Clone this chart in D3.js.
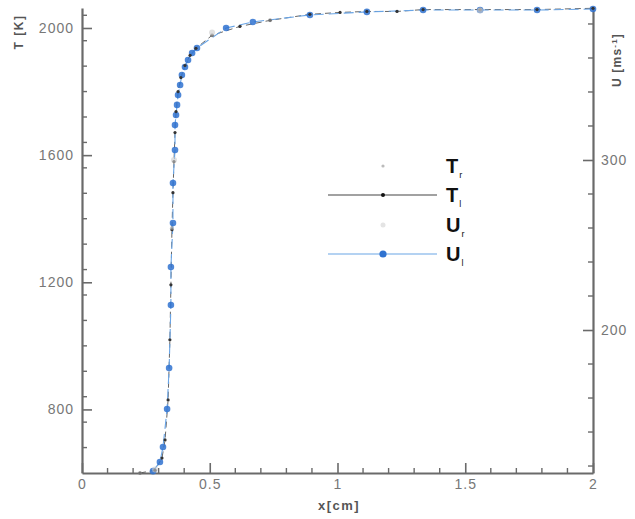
<!DOCTYPE html>
<html><head><meta charset="utf-8">
<script src="https://cdn.jsdelivr.net/npm/d3@7/dist/d3.min.js"></script>
<style>body{margin:0;background:#fff}svg{display:block}text{font-family:"Liberation Sans",Arial,sans-serif}</style>
</head><body>
<script>
// ---- data ----
const xTicks = [0, 0.5, 1, 1.5, 2];
const xTickLabels = ["0", "0.5", "1", "1.5", "2"];
const tTicks = [800, 1200, 1600, 2000];
const uTicks = [200, 300];

// T_l (black line + dot)
const tlX = [0.227,0.286,0.313,0.325,0.337,0.344,0.348,0.352,0.356,0.360,0.364,0.368,0.376,0.387,0.403,0.423,0.446,0.509,0.618,0.736,0.892,1.01,1.115,1.233,1.335,1.558,1.781,2.0];
const tlT = [600,609,647,704,830,1019,1192,1365,1482,1580,1671,1737,1800,1844,1882,1914,1936,1977,2005,2024,2043,2049,2052,2052,2058,2058,2058,2062];

// U_l (blue line + circle)
const ulX = [0.278,0.305,0.317,0.333,0.341,0.348,0.348,0.356,0.356,0.364,0.364,0.368,0.372,0.376,0.384,0.391,0.403,0.415,0.431,0.450,0.564,0.669,0.892,1.115,1.335,1.558,1.781,2.0];
const ulU = [117,122.4,131.2,153.5,177.6,214.7,237.1,262.9,286.5,305.9,320.6,326.5,332.4,338.2,344.1,350,354.7,358.8,362.9,365.9,377.6,381.2,385.3,387.1,388.2,388.2,388.2,388.8];

// T_r (faint gray) and U_r (faint light)
const trX = [0.227,0.352,0.509,0.736,1.558];
const trT = [600,1370,1977,2024,2058];
const urX = [0.286,0.360,0.509,1.558];
const urU = [118,300,375,388];

const legendLabels = [{b:"T",s:"r"},{b:"T",s:"l"},{b:"U",s:"r"},{b:"U",s:"l"}];

// ---- layout ----
const W = 635, H = 519;
const L = 82, R = 593, T0 = 8, B = 473;
const svg = d3.select("body").append("svg").attr("width", W).attr("height", H);

const x = d3.scaleLinear().domain([0, 2]).range([L, R]);
const yT = d3.scaleLinear().domain([600, 2062.9]).range([B, T0]);
const yU = d3.scaleLinear().domain([115.9, 389.4]).range([B, T0]);

const axisCol = "#6a6a6a", labCol = "#777";

function minor(start, stop, step, majors) {
  const out = [];
  for (let v = start; v <= stop + 1e-9; v += step) {
    const r = Math.round(v * 1000) / 1000;
    if (!majors.some(m => Math.abs(m - r) < 1e-6)) out.push(r);
  }
  return out;
}

// bottom axis
const gx = svg.append("g").attr("transform", `translate(0,${B})`);
gx.call(d3.axisBottom(x).tickValues(xTicks).tickFormat((d,i)=>xTickLabels[i]).tickSizeInner(-10).tickSizeOuter(0).tickPadding(6));
gx.append("g").selectAll("line").data(minor(0, 2, 0.1, xTicks)).join("line")
  .attr("x1", d=>x(d)).attr("x2", d=>x(d)).attr("y1", 0).attr("y2", -5);
// left axis
const gl = svg.append("g").attr("transform", `translate(${L},0)`);
gl.call(d3.axisLeft(yT).tickValues(tTicks).tickFormat(d3.format("d")).tickSizeInner(-10).tickSizeOuter(0).tickPadding(8));
gl.append("g").selectAll("line").data(minor(600, 2040, 80, tTicks.concat([600]))).join("line")
  .attr("y1", d=>yT(d)).attr("y2", d=>yT(d)).attr("x1", 0).attr("x2", 5);
// right axis
const gr = svg.append("g").attr("transform", `translate(${R},0)`);
gr.call(d3.axisRight(yU).tickValues(uTicks).tickFormat(d3.format("d")).tickSizeInner(-10).tickSizeOuter(0).tickPadding(8));
gr.append("g").selectAll("line").data(minor(120, 380, 20, uTicks)).join("line")
  .attr("y1", d=>yU(d)).attr("y2", d=>yU(d)).attr("x1", 0).attr("x2", -5);

svg.selectAll(".domain").attr("stroke", axisCol).attr("stroke-width", 2.2);
svg.selectAll("g line").attr("stroke", axisCol).attr("stroke-width", 1.4);
svg.selectAll(".tick line").attr("stroke", axisCol).attr("stroke-width", 1.6);
svg.selectAll(".tick text").attr("fill", labCol).attr("font-size", 14).attr("letter-spacing", 1)
  .attr("font-family", "'Liberation Sans',Arial,sans-serif");

// axis titles
svg.append("text").attr("x", 339).attr("y", 510).attr("text-anchor", "middle")
  .attr("font-size", 13).attr("font-weight", "bold").attr("letter-spacing", 1.5).attr("fill", "#555").text("x[cm]");
svg.append("text").attr("transform", "translate(23,32) rotate(-90)").attr("text-anchor", "middle")
  .attr("font-size", 12).attr("font-weight", "bold").attr("letter-spacing", 1.5).attr("fill", "#555").text("T [K]");
const ut = svg.append("text").attr("transform", "translate(621,60) rotate(-90)").attr("text-anchor", "middle")
  .attr("font-size", 12).attr("font-weight", "bold").attr("letter-spacing", 1.2).attr("fill", "#555");
ut.append("tspan").text("U [ms");
ut.append("tspan").attr("dy", -4).attr("font-size", 8).text("-1");
ut.append("tspan").attr("dy", 4).text("]");

// data
const blue = "#2f72d0", blueLine = "#6aa5e6";
const tlData = tlX.map((v,i)=>[v, tlT[i]]);
const ulData = ulX.map((v,i)=>[v, ulU[i]]);
const trData = trX.map((v,i)=>[v, trT[i]]);
const urData = urX.map((v,i)=>[v, urU[i]]);

svg.append("path").datum(tlData).attr("fill","none").attr("stroke","#555").attr("stroke-width",0.9).attr("stroke-dasharray","6,4")
  .attr("d", d3.line().x(d=>x(d[0])).y(d=>yT(d[1])));
svg.append("path").datum(ulData).attr("fill","none").attr("stroke",blueLine).attr("stroke-width",1.1).attr("stroke-dasharray","10,5")
  .attr("d", d3.line().x(d=>x(d[0])).y(d=>yU(d[1])));

svg.append("g").selectAll("circle").data(ulData).join("circle")
  .attr("cx", d=>x(d[0])).attr("cy", d=>yU(d[1])).attr("r", 3.3).attr("fill", blue).attr("opacity", 0.85);
svg.append("g").selectAll("circle").data(tlData).join("circle")
  .attr("cx", d=>x(d[0])).attr("cy", d=>yT(d[1])).attr("r", 1.6).attr("fill", "#333");
svg.append("g").selectAll("circle").data(trData).join("circle")
  .attr("cx", d=>x(d[0])).attr("cy", d=>yT(d[1])).attr("r", 2).attr("fill", "#999").attr("opacity", 0.6);
svg.append("g").selectAll("circle").data(urData).join("circle")
  .attr("cx", d=>x(d[0])).attr("cy", d=>yU(d[1])).attr("r", 3).attr("fill", "#ccc").attr("opacity", 0.6);

// legend
const lg = svg.append("g");
const rowY = [166, 195, 225, 254];
const lx1 = 328, lx2 = 437, lxm = 383;
lg.append("circle").attr("cx", lxm).attr("cy", rowY[0]).attr("r", 1.6).attr("fill", "#bbb");
lg.append("line").attr("x1", lx1).attr("x2", lx2).attr("y1", rowY[1]).attr("y2", rowY[1]).attr("stroke", "#444").attr("stroke-width", 1.2);
lg.append("circle").attr("cx", lxm).attr("cy", rowY[1]).attr("r", 2).attr("fill", "#111");
lg.append("circle").attr("cx", lxm).attr("cy", rowY[2]).attr("r", 2.5).attr("fill", "#e4e4e4");
lg.append("line").attr("x1", lx1).attr("x2", lx2).attr("y1", rowY[3]).attr("y2", rowY[3]).attr("stroke", blueLine).attr("stroke-width", 1.2);
lg.append("circle").attr("cx", lxm).attr("cy", rowY[3]).attr("r", 3.6).attr("fill", blue);

const baselines = [173, 202, 232, 261];
legendLabels.forEach((l,i)=>{
  const t = lg.append("text").attr("x", 446).attr("y", baselines[i]).attr("font-size", 20).attr("font-weight","bold").attr("fill","#111");
  t.append("tspan").text(l.b);
  t.append("tspan").attr("dy", 5).attr("dx", 1).attr("font-size", 9).attr("font-weight","normal").text(l.s);
});
</script>
</body></html>
